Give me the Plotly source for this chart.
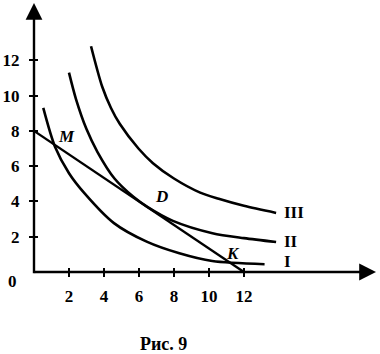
import plotly.graph_objects as go

# Indifference curves
curve_I_x = [0.53, 1.2, 2.0, 2.88, 4.57, 6.44, 8.31, 10.19, 13.18]
curve_I_y = [9.3, 7.1, 5.6, 4.47, 2.77, 1.72, 1.06, 0.62, 0.44]

curve_II_x = [2.0, 2.4, 3.0, 3.63, 4.6, 5.7, 6.5, 7.94, 10.2, 12.0, 13.84]
curve_II_y = [11.3, 9.8, 8.1, 6.8, 5.3, 4.25, 3.68, 2.9, 2.2, 1.92, 1.7]

curve_III_x = [3.26, 3.9, 4.4, 4.9, 5.97, 6.8, 8.0, 9.5, 10.56, 12.0, 13.84]
curve_III_y = [12.8, 10.5, 9.3, 8.4, 7.0, 6.17, 5.3, 4.5, 4.15, 3.75, 3.35]

# Budget line
budget_x = [0, 12]
budget_y = [8, 0]

# Tick labels
x_ticks = [2, 4, 6, 8, 10, 12]
x_tick_text = ["2", "4", "6", "8", "10", "12"]
y_ticks = [2, 4, 6, 8, 10, 12]
y_tick_text = ["2", "4", "6", "8", "10", "12"]

# Point labels
point_names = ["M", "D", "K"]
point_x = [1.85, 7.28, 11.4]
point_y = [7.69, 4.28, 1.06]

curve_names = ["III", "II", "I"]
curve_label_x = [14.2, 14.2, 14.2]
curve_label_y = [3.35, 1.75, 0.6]

X_MAX = 19.55
Y_MAX = 15.25
SERIF = "Liberation Serif"

fig = go.Figure()
line_style = dict(color="black", width=2.6, shape="spline", smoothing=0.8)
for xs, ys in [(curve_I_x, curve_I_y), (curve_II_x, curve_II_y), (curve_III_x, curve_III_y)]:
    fig.add_trace(go.Scatter(x=xs, y=ys, mode="lines", line=line_style,
                             showlegend=False, hoverinfo="skip"))
fig.add_trace(go.Scatter(x=budget_x, y=budget_y, mode="lines",
                         line=dict(color="black", width=2.4),
                         showlegend=False, hoverinfo="skip"))

annotations = []
# axes with arrows
annotations.append(dict(x=X_MAX, y=0, ax=-0.05, ay=0, xref="x", yref="y",
                        axref="x", ayref="y", showarrow=True, arrowhead=2,
                        arrowsize=1.4, arrowwidth=2.4, arrowcolor="black",
                        standoff=0, text=""))
annotations.append(dict(x=0, y=Y_MAX, ax=0, ay=-0.15, xref="x", yref="y",
                        axref="x", ayref="y", showarrow=True, arrowhead=2,
                        arrowsize=1.4, arrowwidth=2.4, arrowcolor="black",
                        standoff=0, text=""))
for name, px, py in zip(point_names, point_x, point_y):
    annotations.append(dict(x=px, y=py, xref="x", yref="y", text=f"<b><i>{name}</i></b>",
                            showarrow=False, xanchor="center", yanchor="middle",
                            font=dict(family=SERIF, size=17, color="black")))
for name, px, py in zip(curve_names, curve_label_x, curve_label_y):
    annotations.append(dict(x=px, y=py, xref="x", yref="y", text=f"<b>{name}</b>",
                            showarrow=False, xanchor="left", yanchor="middle",
                            font=dict(family=SERIF, size=17, color="black")))
annotations.append(dict(x=-0.062, y=-0.034, xref="paper", yref="paper", text="<b>0</b>",
                        showarrow=False, xanchor="center", yanchor="middle",
                        font=dict(family=SERIF, size=17, color="black")))
annotations.append(dict(x=0.38, y=-0.268, xref="paper", yref="paper", text="<b>Рис. 9</b>",
                        showarrow=False, xanchor="center", yanchor="middle",
                        font=dict(family=SERIF, size=18, color="black")))

fig.update_layout(
    width=380, height=354,
    margin=dict(l=29, r=4, t=3, b=82),
    paper_bgcolor="white", plot_bgcolor="white",
    showlegend=False,
    annotations=annotations,
    xaxis=dict(range=[0, X_MAX], showgrid=False, zeroline=False, showline=False,
               tickmode="array", tickvals=x_ticks, ticktext=x_tick_text,
               ticks="outside", ticklen=4, tickwidth=2, tickcolor="black",
               minor=dict(tickmode="array", tickvals=x_ticks, ticks="inside",
                          ticklen=4, tickwidth=2, tickcolor="black"),
               ticklabelstandoff=5,
               tickfont=dict(family=SERIF, size=17, color="black", weight="bold")),
    yaxis=dict(range=[0, Y_MAX], showgrid=False, zeroline=False, showline=False,
               tickmode="array", tickvals=y_ticks, ticktext=y_tick_text,
               ticks="outside", ticklen=4, tickwidth=2, tickcolor="black",
               minor=dict(tickmode="array", tickvals=y_ticks, ticks="inside",
                          ticklen=4, tickwidth=2, tickcolor="black"),
               ticklabelstandoff=6,
               tickfont=dict(family=SERIF, size=17, color="black", weight="bold")),
)

fig.write_html("out.html")
